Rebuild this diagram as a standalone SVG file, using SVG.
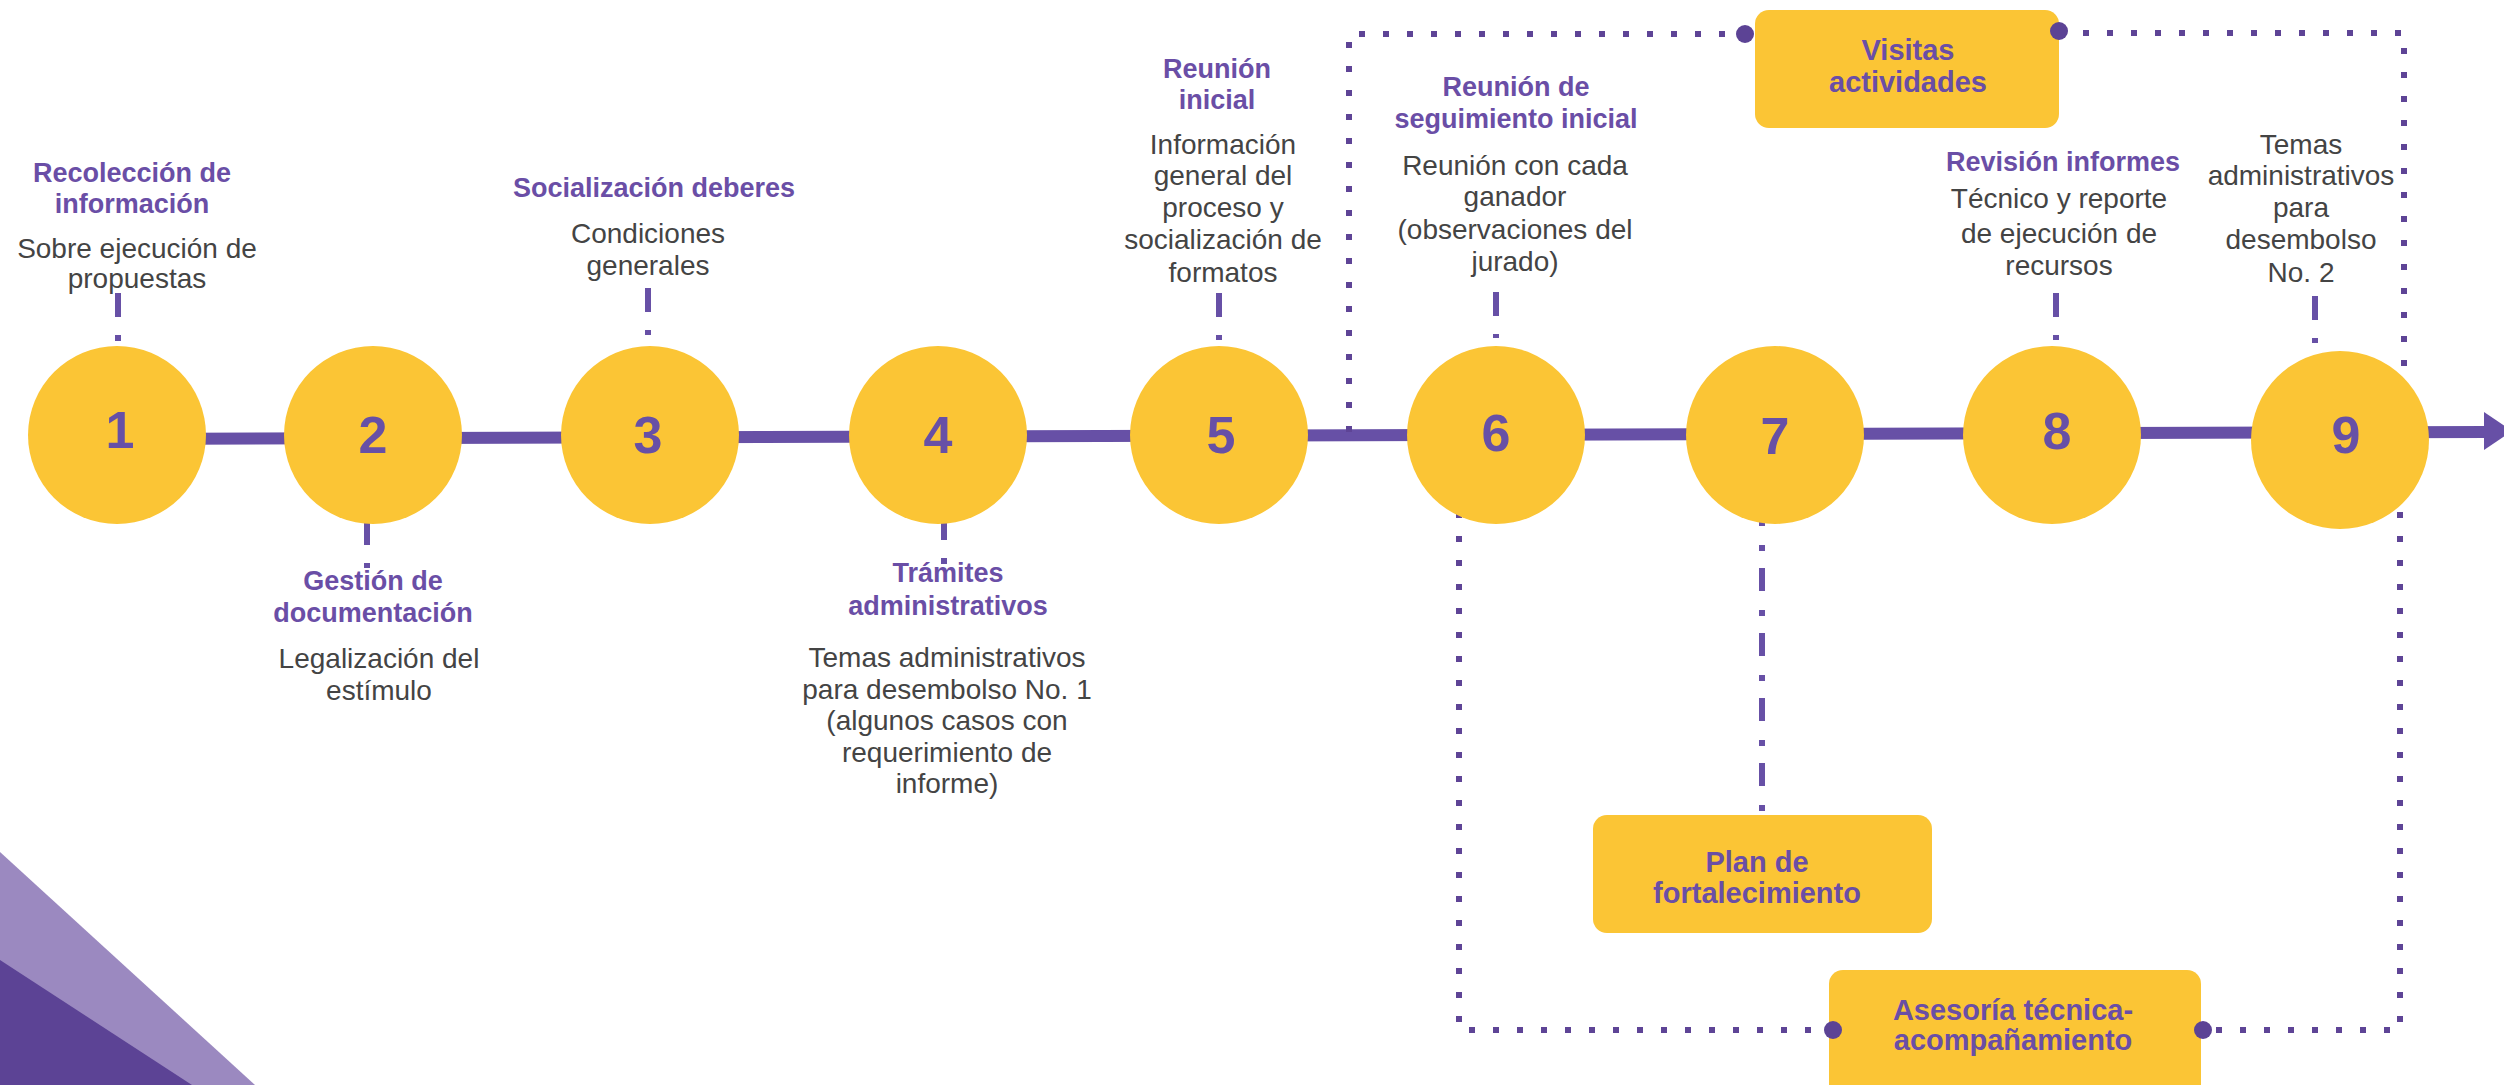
<svg xmlns="http://www.w3.org/2000/svg" width="2504" height="1085" viewBox="0 0 2504 1085">
<style>
.bg{fill:#ffffff}
.circ{fill:#FBC535}
.box{fill:#FBC535}
.num{font-family:"Liberation Sans",Arial,sans-serif;font-weight:bold;font-size:52px;fill:#6750A6;text-anchor:middle}
.ttl{font-family:"Liberation Sans",Arial,sans-serif;font-weight:bold;font-size:27px;fill:#6A4EA6;text-anchor:middle}
.btl{font-family:"Liberation Sans",Arial,sans-serif;font-weight:bold;font-size:29px;fill:#6A4EA6;text-anchor:middle}
.body{font-family:"Liberation Sans",Arial,sans-serif;font-size:28px;fill:#444444;text-anchor:middle}
.main{stroke:#6750A6;stroke-width:12;fill:none}
.dots{stroke:#5E4496;stroke-width:6;fill:none;stroke-dasharray:6 18}
.tick{stroke:#6750A6;stroke-width:6;fill:none;stroke-dasharray:24 18 6 200}
.dashdot{stroke:#6750A6;stroke-width:6;fill:none;stroke-dasharray:23 19 6 17}
.pin{fill:#5C4395}
</style>
<rect class="bg" x="0" y="0" width="2504" height="1085"/>
<g id="decoration">
<polygon points="0,852 255,1085 0,1085" fill="#9B89C0"/>
<polygon points="0,960 192,1085 0,1085" fill="#5C4395"/>
</g>
<g id="connectors">
<line class="main" x1="117" y1="439" x2="2488" y2="432"/>
<polygon points="2484,412 2484,450 2512,431" fill="#6750A6"/>
<path class="dots" d="M1349,432 V34 H1745"/>
<path class="dots" d="M2059,33 H2404 V440"/>
<path class="dots" d="M2400,440 V1030 H2203"/>
<path class="dots" d="M1459,440 V1030 H1833"/>
<path class="dashdot" d="M1762,503 V815"/>
<path class="tick" d="M118,293 V341"/>
<path class="tick" d="M367,521 V568"/>
<path class="tick" d="M648,288 V335"/>
<path class="tick" d="M944,516 V565"/>
<path class="tick" d="M1219,293 V340"/>
<path class="tick" d="M1496,292 V338"/>
<path class="tick" d="M2056,293 V340"/>
<path class="tick" d="M2315,296 V343"/>
</g>
<g id="node1">
<circle class="circ" cx="117" cy="435" r="89"/>
<text class="num" x="120" y="448">1</text>
<text class="ttl" x="132" y="182">Recolección de</text>
<text class="ttl" x="132" y="213">información</text>
<text class="body" x="137" y="258">Sobre ejecución de</text>
<text class="body" x="137" y="288">propuestas</text>
</g>
<g id="node2">
<circle class="circ" cx="373" cy="435" r="89"/>
<text class="num" x="373" y="453">2</text>
<text class="ttl" x="373" y="590">Gestión de</text>
<text class="ttl" x="373" y="622">documentación</text>
<text class="body" x="379" y="668">Legalización del</text>
<text class="body" x="379" y="700">estímulo</text>
</g>
<g id="node3">
<circle class="circ" cx="650" cy="435" r="89"/>
<text class="num" x="648" y="453">3</text>
<text class="ttl" x="654" y="197">Socialización deberes</text>
<text class="body" x="648" y="243">Condiciones</text>
<text class="body" x="648" y="275">generales</text>
</g>
<g id="node4">
<circle class="circ" cx="938" cy="435" r="89"/>
<text class="num" x="938" y="453">4</text>
<text class="ttl" x="948" y="582">Trámites</text>
<text class="ttl" x="948" y="615">administrativos</text>
<text class="body" x="947" y="667">Temas administrativos</text>
<text class="body" x="947" y="699">para desembolso No. 1</text>
<text class="body" x="947" y="730">(algunos casos con</text>
<text class="body" x="947" y="762">requerimiento de</text>
<text class="body" x="947" y="793">informe)</text>
</g>
<g id="node5">
<circle class="circ" cx="1219" cy="435" r="89"/>
<text class="num" x="1221" y="453">5</text>
<text class="ttl" x="1217" y="78">Reunión</text>
<text class="ttl" x="1217" y="109">inicial</text>
<text class="body" x="1223" y="154">Información</text>
<text class="body" x="1223" y="185">general del</text>
<text class="body" x="1223" y="217">proceso y</text>
<text class="body" x="1223" y="249">socialización de</text>
<text class="body" x="1223" y="282">formatos</text>
</g>
<g id="node6">
<circle class="circ" cx="1496" cy="435" r="89"/>
<text class="num" x="1496" y="451">6</text>
<text class="ttl" x="1516" y="96">Reunión de</text>
<text class="ttl" x="1516" y="128">seguimiento inicial</text>
<text class="body" x="1515" y="175">Reunión con cada</text>
<text class="body" x="1515" y="206">ganador</text>
<text class="body" x="1515" y="239">(observaciones del</text>
<text class="body" x="1515" y="271">jurado)</text>
</g>
<g id="node7">
<circle class="circ" cx="1775" cy="435" r="89"/>
<text class="num" x="1775" y="454">7</text>
</g>
<g id="node8">
<circle class="circ" cx="2052" cy="435" r="89"/>
<text class="num" x="2057" y="449">8</text>
<text class="ttl" x="2063" y="171">Revisión informes</text>
<text class="body" x="2059" y="208">Técnico y reporte</text>
<text class="body" x="2059" y="243">de ejecución de</text>
<text class="body" x="2059" y="275">recursos</text>
</g>
<g id="node9">
<circle class="circ" cx="2340" cy="440" r="89"/>
<text class="num" x="2346" y="453">9</text>
<text class="body" x="2301" y="154">Temas</text>
<text class="body" x="2301" y="185">administrativos</text>
<text class="body" x="2301" y="217">para</text>
<text class="body" x="2301" y="249">desembolso</text>
<text class="body" x="2301" y="282">No. 2</text>
</g>
<g id="visitas">
<rect class="box" x="1755" y="10" width="304" height="118" rx="14"/>
<text class="btl" x="1908" y="60">Visitas</text>
<text class="btl" x="1908" y="92">actividades</text>
</g>
<g id="plan">
<rect class="box" x="1593" y="815" width="339" height="118" rx="14"/>
<text class="btl" x="1757" y="872">Plan de</text>
<text class="btl" x="1757" y="903">fortalecimiento</text>
</g>
<g id="asesoria">
<rect class="box" x="1829" y="970" width="372" height="130" rx="14"/>
<text class="btl" x="2013" y="1020">Asesoría técnica-</text>
<text class="btl" x="2013" y="1050">acompañamiento</text>
</g>
<g id="connector-ends">
<circle class="pin" cx="1745" cy="34" r="9"/>
<circle class="pin" cx="2059" cy="31" r="9"/>
<circle class="pin" cx="1833" cy="1030" r="9"/>
<circle class="pin" cx="2203" cy="1030" r="9"/>
</g>
</svg>
